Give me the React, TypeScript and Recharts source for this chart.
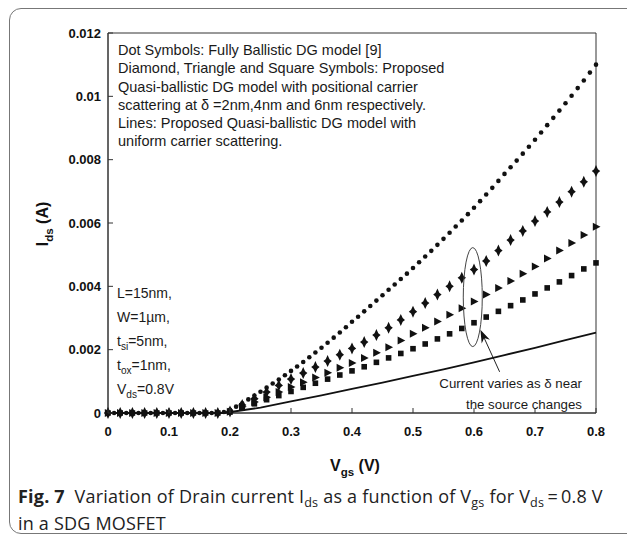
import React from 'react';
import { ScatterChart, Scatter, XAxis, YAxis, ReferenceDot, ReferenceLine, ReferenceArea } from 'recharts';

// ballistic model (dots), Vgs in V, Ids in mA
const vgsDots = [
  0, 0.01, 0.02, 0.03, 0.04, 0.05, 0.06, 0.07, 0.08, 0.09,
  0.1, 0.11, 0.12, 0.13, 0.14, 0.15, 0.16, 0.17, 0.18, 0.19,
  0.2, 0.21, 0.22, 0.23, 0.24, 0.25, 0.26, 0.27, 0.28, 0.29,
  0.3, 0.31, 0.32, 0.33, 0.34, 0.35, 0.36, 0.37, 0.38, 0.39,
  0.4, 0.41, 0.42, 0.43, 0.44, 0.45, 0.46, 0.47, 0.48, 0.49,
  0.5, 0.51, 0.52, 0.53, 0.54, 0.55, 0.56, 0.57, 0.58, 0.59,
  0.6, 0.61, 0.62, 0.63, 0.64, 0.65, 0.66, 0.67, 0.68, 0.69,
  0.7, 0.71, 0.72, 0.73, 0.74, 0.75, 0.76, 0.77, 0.78, 0.79, 0.8,
];
const ballistic = [
  0, 0, 0, 0, 0, 0, 0, 0, 0, 0,
  0, 0, 0, 0, 0, 0, 0, 0, 0, 0.03,
  0.1, 0.2, 0.31, 0.43, 0.55, 0.67, 0.8, 0.93, 1.06, 1.19,
  1.33, 1.47, 1.61, 1.76, 1.91, 2.06, 2.22, 2.38, 2.54, 2.71,
  2.88, 3.04, 3.21, 3.38, 3.55, 3.72, 3.89, 4.06, 4.23, 4.4,
  4.58, 4.76, 4.94, 5.12, 5.31, 5.5, 5.69, 5.89, 6.08, 6.28,
  6.48, 6.69, 6.9, 7.11, 7.33, 7.55, 7.76, 7.97, 8.19, 8.41,
  8.63, 8.86, 9.09, 9.32, 9.55, 9.78, 10.02, 10.26, 10.5, 10.75, 11.0,
];

// quasi-ballistic, positional scattering (symbols)
const vgsSym = [
  0, 0.02, 0.04, 0.06, 0.08, 0.1, 0.12, 0.14, 0.16, 0.18,
  0.2, 0.22, 0.24, 0.26, 0.28, 0.3, 0.32, 0.34, 0.36, 0.38,
  0.4, 0.42, 0.44, 0.46, 0.48, 0.5, 0.52, 0.54, 0.56, 0.58,
  0.6, 0.62, 0.64, 0.66, 0.68, 0.7, 0.72, 0.74, 0.76, 0.78, 0.8,
];
const delta2nm = [
  0, 0, 0, 0, 0, 0, 0, 0, 0, 0,
  0.05, 0.25, 0.45, 0.66, 0.87, 1.07, 1.26, 1.45, 1.64, 1.84,
  2.04, 2.24, 2.46, 2.69, 2.94, 3.2, 3.47, 3.74, 4.0, 4.27,
  4.53, 4.8, 5.13, 5.46, 5.75, 6.06, 6.35, 6.66, 6.99, 7.3, 7.64,
];
const delta4nm = [
  0, 0, 0, 0, 0, 0, 0, 0, 0, 0,
  0.04, 0.2, 0.35, 0.5, 0.66, 0.82, 0.97, 1.12, 1.27, 1.43,
  1.58, 1.74, 1.9, 2.08, 2.29, 2.5, 2.69, 2.89, 3.1, 3.31,
  3.52, 3.74, 3.95, 4.17, 4.4, 4.63, 4.88, 5.13, 5.37, 5.62, 5.88,
];
const delta6nm = [
  0, 0, 0, 0, 0, 0, 0, 0, 0, 0,
  0.03, 0.16, 0.29, 0.42, 0.55, 0.68, 0.81, 0.94, 1.07, 1.2,
  1.33, 1.46, 1.6, 1.74, 1.88, 2.03, 2.18, 2.34, 2.5, 2.67,
  2.85, 3.03, 3.21, 3.39, 3.57, 3.76, 3.95, 4.14, 4.34, 4.55, 4.74,
];

// uniform scattering (solid line)
const vgsLine = [0, 0.1, 0.19, 0.25, 0.3, 0.35, 0.4, 0.45, 0.5, 0.55, 0.6, 0.65, 0.7, 0.75, 0.8];
const uniform = [0, 0, 0, 0.17, 0.37, 0.56, 0.76, 0.96, 1.17, 1.38, 1.6, 1.83, 2.06, 2.3, 2.54];

const xTicks = [0, 0.1, 0.2, 0.3, 0.4, 0.5, 0.6, 0.7, 0.8];
const yTicks = [0, 0.002, 0.004, 0.006, 0.008, 0.01, 0.012];

const toRows = (xs: number[], ys: number[]) => xs.map((x, i) => ({ x, y: ys[i] / 1000 }));

const AXIS = '#333';
const INK = '#111';
const tickFont = { fontFamily: 'Liberation Sans, Arial, sans-serif', fontWeight: 700, fontSize: 13, fill: INK };

const LeftTick = (p: any) => (
  <g>
    <line x1={p.x} y1={p.y} x2={p.x + 5} y2={p.y} stroke={AXIS} />
    <text x={p.x - 7} y={p.y} dy={4.5} textAnchor="end" {...tickFont}>{String(p.payload.value)}</text>
  </g>
);
const BottomTick = (p: any) => (
  <g>
    <line x1={p.x} y1={p.y} x2={p.x} y2={p.y - 5} stroke={AXIS} />
    <text x={p.x} y={p.y + 23} textAnchor="middle" {...tickFont}>{String(p.payload.value)}</text>
  </g>
);
const TopTick = (p: any) => <line x1={p.x} y1={p.y} x2={p.x} y2={p.y + 5} stroke={AXIS} />;
const RightTick = (p: any) => <line x1={p.x} y1={p.y} x2={p.x - 5} y2={p.y} stroke={AXIS} />;

const Dot = (p: any) => <circle cx={p.cx} cy={p.cy} r={2.3} fill={INK} />;
const Star = (p: any) => {
  const { cx, cy } = p;
  const pts = [
    [0, -6], [1.9, -1.9], [4.2, 0], [1.9, 1.9], [0, 6], [-1.9, 1.9], [-4.2, 0], [-1.9, -1.9],
  ].map(([dx, dy]) => `${cx + dx},${cy + dy}`).join(' ');
  return <polygon points={pts} fill={INK} />;
};
const Tri = (p: any) => {
  const { cx, cy } = p;
  return <polygon points={`${cx - 3.2},${cy - 4} ${cx + 4.5},${cy} ${cx - 3.2},${cy + 4}`} fill={INK} />;
};
const Sq = (p: any) => <rect x={p.cx - 2.8} y={p.cy - 2.8} width={5.6} height={5.6} fill={INK} />;
const NoMark = () => <g />;

const Ellipse = (p: any) => (
  <ellipse cx={p.cx} cy={p.cy} rx={9.5} ry={49.5} fill="none" stroke="#444" strokeWidth={1} />
);

const Arrow = (p: any) => {
  const { x1, y1, x2, y2 } = p;
  const a = Math.atan2(y2 - y1, x2 - x1);
  const L = 13;
  const W = 4.5;
  const bx = x2 - L * Math.cos(a);
  const by = y2 - L * Math.sin(a);
  const nx = -Math.sin(a);
  const ny = Math.cos(a);
  const mx = x2 - 0.7 * L * Math.cos(a);
  const my = y2 - 0.7 * L * Math.sin(a);
  return (
    <g>
      <line x1={x1} y1={y1} x2={mx} y2={my} stroke="#222" strokeWidth={1} />
      <polygon
        points={`${x2},${y2} ${bx + nx * W},${by + ny * W} ${mx},${my} ${bx - nx * W},${by - ny * W}`}
        fill="#111"
      />
    </g>
  );
};

const sub = { fontSize: '0.72em', verticalAlign: '-0.4em', lineHeight: 0 } as const;
const capSub = { fontSize: '0.7em', verticalAlign: '-0.3em', lineHeight: 0 } as const;

export default function App() {
  const textFont = 'Liberation Sans, Arial, sans-serif';
  return (
    <div style={{ position: 'absolute', left: 0, top: 0, width: 627, height: 540, overflow: 'hidden', background: '#fff' }}>
      <div
        style={{
          position: 'absolute', left: 9, top: 8, width: 660, height: 526,
          border: '1.3px solid #777', borderRadius: 12, boxSizing: 'border-box',
        }}
      />
      <div style={{ position: 'absolute', left: 0, top: 0 }}>
        <ScatterChart width={627} height={450} margin={{ top: 33, right: 31, left: 0, bottom: 0 }}>
          <XAxis
            type="number" dataKey="x" domain={[0, 0.8]} ticks={xTicks} interval={0}
            height={37} tickSize={0} tickMargin={0} tickLine={false}
            stroke={AXIS} tick={<BottomTick />}
          />
          <XAxis
            xAxisId="top" orientation="top" type="number" dataKey="x" domain={[0, 0.8]} ticks={xTicks}
            interval={0} height={0} tickSize={0} tickMargin={0} tickLine={false}
            stroke={AXIS} tick={<TopTick />}
          />
          <YAxis
            type="number" dataKey="y" domain={[0, 0.012]} ticks={yTicks} interval={0}
            width={108} tickSize={0} tickMargin={0} tickLine={false}
            stroke={AXIS} tick={<LeftTick />}
          />
          <YAxis
            yAxisId="right" orientation="right" type="number" dataKey="y" domain={[0, 0.012]} ticks={yTicks}
            interval={0} width={0} tickSize={0} tickMargin={0} tickLine={false}
            stroke={AXIS} tick={<RightTick />}
          />
          <ReferenceArea x1={0} x2={0.8} y1={0} y2={0.012} fill="none" stroke={AXIS} strokeWidth={1} ifOverflow="visible" />
          {/* invisible copy tied to the mirrored axes so they get a scale */}
          <Scatter
            xAxisId="top" yAxisId="right" data={toRows(vgsDots, ballistic)} shape={<NoMark />}
            isAnimationActive={false}
          />
          <Scatter
            data={toRows(vgsLine, uniform)} line={{ stroke: INK, strokeWidth: 1.8 }} lineType="joint"
            shape={<NoMark />} isAnimationActive={false}
          />
          <Scatter data={toRows(vgsSym, delta6nm)} shape={<Sq />} isAnimationActive={false} />
          <Scatter data={toRows(vgsSym, delta4nm)} shape={<Tri />} isAnimationActive={false} />
          <Scatter data={toRows(vgsSym, delta2nm)} shape={<Star />} isAnimationActive={false} />
          <Scatter data={toRows(vgsDots, ballistic)} shape={<Dot />} isAnimationActive={false} />
          <ReferenceDot x={0.598} y={0.00366} shape={<Ellipse />} ifOverflow="visible" />
          <ReferenceLine
            segment={[{ x: 0.642, y: 0.0013 }, { x: 0.6105, y: 0.00263 }]}
            shape={<Arrow />} ifOverflow="visible"
          />
        </ScatterChart>
      </div>

      {/* axis titles */}
      <div
        style={{
          position: 'absolute', left: 43, top: 224, transform: 'translate(-50%, -50%) rotate(-90deg)',
          whiteSpace: 'nowrap', fontFamily: textFont, fontWeight: 700, fontSize: 16, color: INK,
        }}
      >
        I<span style={sub}>ds</span> (A)
      </div>
      <div
        style={{
          position: 'absolute', left: 355, top: 466, transform: 'translate(-50%, -50%)',
          whiteSpace: 'nowrap', fontFamily: textFont, fontWeight: 700, fontSize: 16, color: INK,
        }}
      >
        V<span style={sub}>gs</span> (V)
      </div>

      {/* legend note */}
      <div
        style={{
          position: 'absolute', left: 118, top: 41, fontFamily: textFont, fontSize: 14.5,
          lineHeight: '18.3px', color: '#1a1a1a', whiteSpace: 'nowrap',
        }}
      >
        <div>Dot Symbols: Fully Ballistic DG model [9]</div>
        <div>Diamond, Triangle and Square Symbols: Proposed</div>
        <div>Quasi-ballistic DG model with positional carrier</div>
        <div>scattering at δ =2nm,4nm and 6nm respectively.</div>
        <div>Lines: Proposed Quasi-ballistic DG model with</div>
        <div>uniform carrier scattering.</div>
      </div>

      {/* device parameters */}
      <div
        style={{
          position: 'absolute', left: 117, top: 281, fontFamily: textFont, fontSize: 14,
          lineHeight: '24px', color: '#1a1a1a', whiteSpace: 'nowrap',
        }}
      >
        <div>L=15nm,</div>
        <div>W=1µm,</div>
        <div>t<span style={sub}>si</span>=5nm,</div>
        <div>t<span style={sub}>ox</span>=1nm,</div>
        <div>V<span style={sub}>ds</span>=0.8V</div>
      </div>

      {/* arrow note */}
      <div
        style={{
          position: 'absolute', right: 627 - 582, top: 373, fontFamily: textFont, fontSize: 13.3,
          lineHeight: '21px', color: '#1a1a1a', whiteSpace: 'nowrap', textAlign: 'right',
        }}
      >
        <div>Current varies as δ near</div>
        <div>the source changes</div>
      </div>

      {/* caption */}
      <div
        style={{
          position: 'absolute', left: 18, top: 483, fontFamily: 'Open Sans, Noto Sans, sans-serif',
          fontSize: 18, lineHeight: '27px', color: '#222', whiteSpace: 'nowrap', letterSpacing: 0.2,
        }}
      >
        <div>
          <b>Fig. 7</b>&nbsp; Variation of Drain current I<span style={capSub}>ds</span> as a function of V
          <span style={capSub}>gs</span> for V<span style={capSub}>ds</span>&thinsp;=&thinsp;0.8&nbsp;V
        </div>
        <div>in a SDG MOSFET</div>
      </div>
    </div>
  );
}
